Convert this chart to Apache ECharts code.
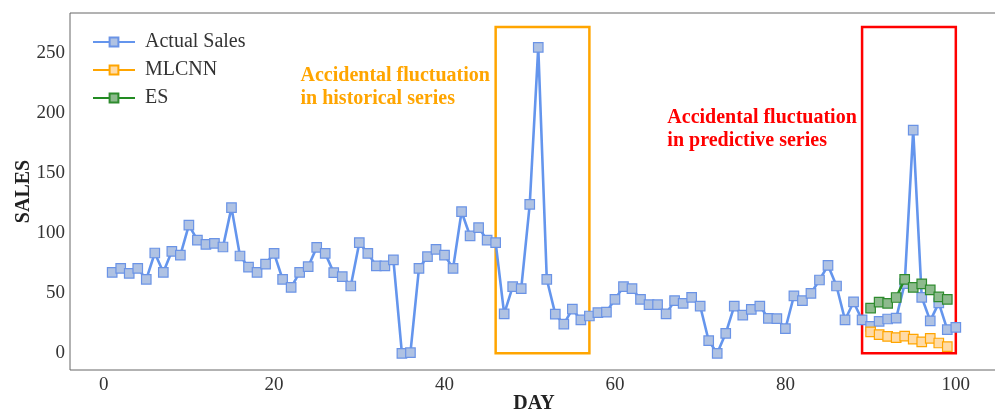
<!DOCTYPE html>
<html>
<head>
<meta charset="utf-8">
<script src="https://cdn.jsdelivr.net/npm/echarts@6/dist/echarts.min.js"></script>
<style>html,body{margin:0;padding:0;background:#fff;}#chart{width:995px;height:412px;}</style>
</head>
<body>
<div id="chart"></div>
<script>
// ---- data ----
var days = [];
for (var d = 1; d <= 100; d++) days.push(d);
var actualSales = [
  67.5, 70.8, 66.7, 70.8, 61.7, 83.6, 67.5, 85, 81.9, 106.9,
  94.4, 90.8, 91.7, 88.6, 121.4, 81.1, 71.9, 67.5, 74.4, 83.3,
  61.7, 55, 67.5, 72.2, 88.3, 83.3, 67.2, 63.9, 56.1, 92.2,
  83.3, 72.8, 72.8, 77.8, 0, 0.5, 70.8, 80.5, 86.7, 81.9,
  70.8, 118, 97.8, 104.7, 94.4, 92.2, 32.8, 55.5, 53.9, 124.2,
  255, 61.7, 32.7, 24.4, 36.9, 27.8, 31.1, 33.9, 34.4, 45,
  55.5, 53.9, 45, 40.5, 40.5, 32.8, 43.9, 41.7, 46.7, 39.4,
  10.5, 0, 16.7, 39.4, 31.9, 36.7, 39.4, 29.2, 28.9, 20.5,
  47.8, 43.9, 50, 61.1, 73.3, 56.1, 27.8, 42.8, 27.8, 22.5,
  26.7, 28.6, 29.3, 58, 186, 46.7, 27, 42, 19.7, 21.7
];
var predDays = [90, 91, 92, 93, 94, 95, 96, 97, 98, 99];
var mlcnn = [17.8, 15.6, 14.1, 13, 14.4, 11.8, 9.5, 12.5, 8.6, 5.5];
var es = [37.7, 42.7, 41.7, 46.5, 61.7, 55, 57.9, 52.8, 47, 45];
var xTicks = [0, 20, 40, 60, 80, 100];
var yTicks = [0, 50, 100, 150, 200, 250];
var histBox = [46, 57, 0, 272];   // x from, x to, y from, y to
var predBox = [89, 100, 0, 272];
var histText = ['Accidental fluctuation', 'in historical series'];
var histTextAnchor = [23.1, 231];
var predText = ['Accidental fluctuation', 'in predictive series'];
var predTextAnchor = [66.15, 196];

function pairs(xs, ys) { return xs.map(function (x, i) { return [x, ys[i]]; }); }

var FONT = 'Liberation Serif';
var chart = echarts.init(document.getElementById('chart'), null, {renderer: 'canvas'});

function boxArea(b) {
  return [[{xAxis: b[0], yAxis: b[2]}, {xAxis: b[1], yAxis: b[3]}]];
}

var option = {
  animation: false,
  backgroundColor: '#fff',
  grid: {left: 70, right: -3, top: 13, bottom: 42, containLabel: false, outerBoundsMode: 'none',
         show: true, borderColor: '#666', borderWidth: 1, backgroundColor: 'transparent'},
  legend: {
    orient: 'vertical', left: 87, top: 27, itemWidth: 42, itemHeight: 11, itemGap: 8,
    textStyle: {fontFamily: FONT, fontSize: 20, color: '#333', padding: [0, 0, 0, 5]},
    data: ['Actual Sales', 'MLCNN', 'ES']
  },
  xAxis: {
    type: 'value', min: -3.95, max: 104.95,
    name: 'DAY', nameLocation: 'middle', nameGap: 34, nameMoveOverlap: false,
    nameTextStyle: {fontFamily: FONT, fontSize: 20, fontWeight: 'bold', color: '#222', verticalAlign: 'middle'},
    axisLine: {show: false}, axisTick: {show: false}, splitLine: {show: false},
    axisLabel: {customValues: xTicks, fontFamily: FONT, fontSize: 19, color: '#333', margin: 6}
  },
  yAxis: {
    type: 'value', min: -13.9, max: 283.6,
    name: 'SALES', nameLocation: 'middle', nameGap: 46, nameRotate: 90, nameMoveOverlap: false,
    nameTextStyle: {fontFamily: FONT, fontSize: 20, fontWeight: 'bold', color: '#222', verticalAlign: 'middle'},
    axisLine: {show: false}, axisTick: {show: false}, splitLine: {show: false},
    axisLabel: {customValues: yTicks, fontFamily: FONT, fontSize: 19, color: '#333', margin: 5}
  },
  series: [
    {
      name: 'Actual Sales', type: 'line', data: pairs(days, actualSales),
      symbol: 'rect', symbolSize: 9.5, showAllSymbol: true,
      lineStyle: {color: '#6495ED', width: 2.6},
      itemStyle: {color: '#AFC2E3', borderColor: '#6A93E6', borderWidth: 1.2},
      z: 3,
      markArea: {
        silent: true,
        data: boxArea(histBox),
        itemStyle: {color: 'rgba(0,0,0,0)', borderColor: '#FFA500', borderWidth: 2.5}
      }
    },
    {
      name: 'MLCNN', type: 'line', data: pairs(predDays, mlcnn),
      symbol: 'rect', symbolSize: 9.5, showAllSymbol: true,
      lineStyle: {color: '#FFA500', width: 2.6},
      itemStyle: {color: '#FFDBA6', borderColor: '#FFA500', borderWidth: 1.2},
      z: 4,
      markArea: {
        silent: true,
        data: boxArea(predBox),
        itemStyle: {color: 'rgba(0,0,0,0)', borderColor: '#FF0000', borderWidth: 2.5}
      }
    },
    {
      name: 'ES', type: 'line', data: pairs(predDays, es),
      symbol: 'rect', symbolSize: 9.5, showAllSymbol: true,
      lineStyle: {color: '#228B22', width: 2.6},
      itemStyle: {color: '#8DBA8D', borderColor: '#2E8B2E', borderWidth: 1.2},
      z: 5
    }
  ]
};
chart.setOption(option);

function textEls(lines, anchor, color) {
  var p = chart.convertToPixel({gridIndex: 0}, anchor);
  return lines.map(function (t, i) {
    return {
      type: 'text', x: p[0], y: p[1] + i * 23, silent: true, z: 10,
      style: {text: t, fill: color, font: 'bold 20px "Liberation Serif"', textAlign: 'left', textVerticalAlign: 'middle', verticalAlign: 'middle'}
    };
  });
}
chart.setOption({
  graphic: textEls(histText, histTextAnchor, '#FFA500').concat(textEls(predText, predTextAnchor, '#FF0000'))
});
</script>
</body>
</html>
